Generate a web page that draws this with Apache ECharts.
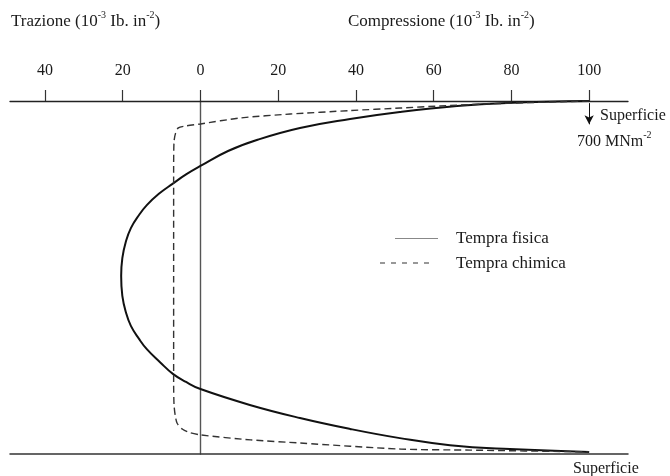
<!DOCTYPE html>
<html>
<head>
<meta charset="utf-8">
<script src="https://cdn.jsdelivr.net/npm/echarts@6/dist/echarts.min.js"></script>
<style>
  html, body { margin: 0; padding: 0; background: #fff; }
  #chart { width: 670px; height: 476px; }
</style>
</head>
<body>
<div id="chart"></div>
<script>
// Stress profiles through the glass thickness (depth in % of thickness, stress in 10^-3 lb/in^2,
// compression positive, tension negative)
const fisicaStress = [100, 78.9, 66.0, 51.3, 38.5, 25.6, 14.5, 7.1, 0, -3.7, -7.1, -10.7, -13.8, -15.8, -17.9, -19.2, -20.1, -20.4,
                      -20.1, -19.2, -17.9, -15.8, -13.8, -10.4, -7.1, -3.7, 0, 12.7, 25.6, 38.5, 51.3, 64.2, 79.6, 100];
const fisicaDepth  = [0, 0.57, 1.42, 3.12, 5.1, 7.65, 11.05, 14.16, 18.4, 20.8, 23.4, 26.3, 29.5, 32.3, 36.0, 39.9, 44.5, 49.6,
                      55.2, 59.8, 63.7, 67.4, 70.3, 74.0, 77.3, 79.6, 81.6, 86.1, 89.8, 92.9, 95.5, 97.5, 98.6, 99.4];

const chimicaStress = [100, 77, 61.7, 51.4, 38.6, 23.1, 10.3, 0, -3.9, -5.7, -6.4, -6.8, -6.9, -6.9, -6.9, -6.8, -6.5, -6.0, -4.6, -2.6, 0, 12.9, 25.7, 51.4, 69.4, 100];
const chimicaDepth  = [0, 0.7, 1.4, 2.0, 2.7, 3.7, 4.8, 6.5, 7.1, 7.6, 9.1, 11.5, 20, 50, 80, 86, 89, 91.3, 93.0, 94.0, 94.6, 96.0, 96.9, 98.6, 98.9, 99.4];

const tickValues = [-40, -20, 0, 20, 40, 60, 80, 100];

const SERIF = '"Liberation Serif", "DejaVu Serif", serif';
const INK = '#1a1a1a';

const pairs = (xs, ys) => xs.map((x, i) => [x, ys[i]]);

function supRich(size) {
  return {
    n: { fontSize: size, fontFamily: SERIF, color: INK, lineHeight: 20, verticalAlign: 'bottom' },
    s: { fontSize: 10, fontFamily: SERIF, color: INK, lineHeight: 20, verticalAlign: 'top' }
  };
}

function richText(x, y, text, size) {
  return {
    type: 'text', left: x, top: y, silent: true,
    style: { text: text, rich: supRich(size), fill: INK, font: size + 'px ' + SERIF }
  };
}

function plainText(x, y, text, size) {
  return {
    type: 'text', left: x, top: y, silent: true,
    style: { text: text, font: size + 'px ' + SERIF, fill: INK }
  };
}

const chart = echarts.init(document.getElementById('chart'), null, { renderer: 'canvas' });

chart.setOption({
  animation: false,
  backgroundColor: '#fff',
  grid: { left: 10, right: 42, top: 101, bottom: 22 },
  xAxis: [
    {
      type: 'value', position: 'top', min: -49, max: 110,
      axisLine: { show: true, onZero: false, lineStyle: { color: '#222', width: 1.3 } },
      axisTick: { show: true, inside: false, length: 11, customValues: tickValues, lineStyle: { color: '#333', width: 1.2 } },
      axisLabel: {
        show: true, customValues: tickValues, margin: 22,
        formatter: v => String(Math.abs(v)),
        fontFamily: SERIF, fontSize: 16, color: INK
      },
      splitLine: { show: false }
    },
    {
      type: 'value', position: 'bottom', min: -49, max: 110,
      axisLine: { show: true, onZero: false, lineStyle: { color: '#333', width: 1.5 } },
      axisTick: { show: false }, axisLabel: { show: false }, splitLine: { show: false }
    }
  ],
  yAxis: {
    type: 'value', inverse: true, min: 0, max: 100,
    axisLine: { show: true, onZero: true, lineStyle: { color: '#555', width: 1.4 } },
    axisTick: { show: false }, axisLabel: { show: false }, splitLine: { show: false }
  },
  series: [
    {
      name: 'Tempra fisica', type: 'line', xAxisIndex: 0,
      data: pairs(fisicaStress, fisicaDepth),
      smooth: 0.45, showSymbol: false, silent: true,
      lineStyle: { color: '#111', width: 2 },
      markLine: {
        silent: true, symbol: ['none', 'arrow'], symbolSize: [7, 9],
        label: { show: false },
        lineStyle: { color: '#111', width: 1, type: 'solid' },
        data: [[{ coord: [100, 0.6] }, { coord: [100, 6.6] }]]
      }
    },
    {
      name: 'Tempra chimica', type: 'line', xAxisIndex: 0,
      data: pairs(chimicaStress, chimicaDepth),
      smooth: 0.25, showSymbol: false, silent: true,
      lineStyle: { color: '#333', width: 1.4, type: [7, 4] }
    }
  ],
  graphic: [
    richText(11, 10, '{n|Trazione (10}{s|-3}{n| Ib. in}{s|-2}{n|)}', 17),
    richText(348, 10, '{n|Compressione (10}{s|-3}{n| Ib. in}{s|-2}{n|)}', 17),
    plainText(600, 108, 'Superficie', 16),
    richText(577, 130, '{n|700 MNm}{s|-2}', 16),
    plainText(573, 461, 'Superficie', 16),
    // legend
    { type: 'line', silent: true, shape: { x1: 395, y1: 238.5, x2: 438, y2: 238.5 },
      style: { stroke: '#888', lineWidth: 1 } },
    plainText(456, 230, 'Tempra fisica', 17),
    { type: 'line', silent: true, shape: { x1: 380, y1: 263, x2: 433, y2: 263 },
      style: { stroke: '#333', lineWidth: 1.2, lineDash: [5, 6] } },
    plainText(456, 255, 'Tempra chimica', 17)
  ]
});
</script>
</body>
</html>
